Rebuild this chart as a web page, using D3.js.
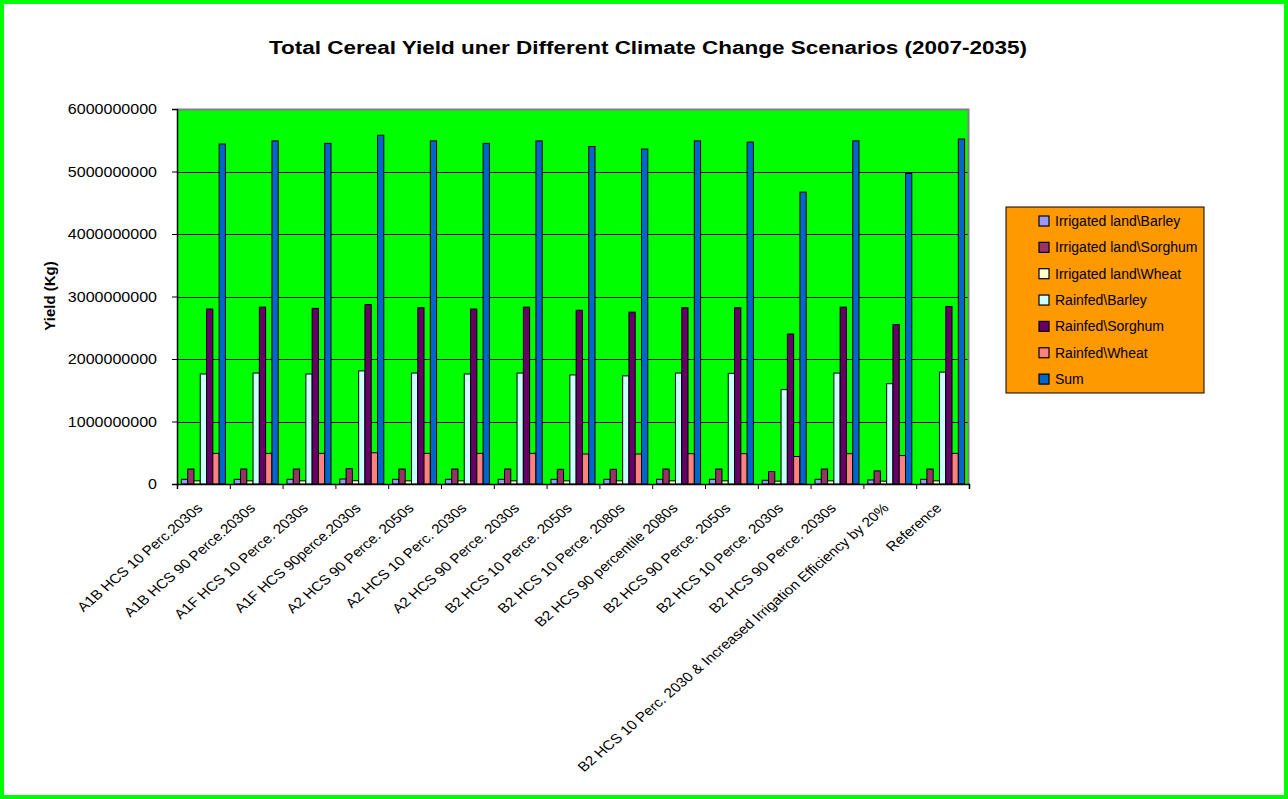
<!DOCTYPE html>
<html>
<head>
<meta charset="utf-8">
<script src="https://cdn.jsdelivr.net/npm/d3@7"></script>
<style>
  html, body { margin: 0; padding: 0; background: #ffffff; }
  svg { display: block; font-family: "Liberation Sans", Arial, sans-serif; }
</style>
</head>
<body>
<svg id="chart" width="1288" height="799"></svg>
<script>
const categories = [
  "A1B HCS 10 Perc.2030s",
  "A1B HCS 90 Perce.2030s",
  "A1F HCS 10 Perce. 2030s",
  "A1F HCS 90perce.2030s",
  "A2 HCS 90 Perce. 2050s",
  "A2 HCS 10 Perc. 2030s",
  "A2 HCS 90 Perce. 2030s",
  "B2 HCS 10 Perce. 2050s",
  "B2 HCS 10 Perce. 2080s",
  "B2 HCS 90 percentile 2080s",
  "B2 HCS 90 Perce. 2050s",
  "B2 HCS 10 Perce. 2030s",
  "B2 HCS 90 Perce. 2030s",
  "B2 HCS 10 Perc. 2030 & Increased Irrigation Efficiency by 20%",
  "Reference"
];

const seriesNames = [
  "Irrigated land\\Barley",
  "Irrigated land\\Sorghum",
  "Irrigated land\\Wheat",
  "Rainfed\\Barley",
  "Rainfed\\Sorghum",
  "Rainfed\\Wheat",
  "Sum"
];

const seriesColors = ["#9999FF", "#993366", "#FFFFCC", "#CCFFFF", "#660066", "#FF8080", "#0066CC"];

const irrigatedBarley  = [75000000, 75000000, 75000000, 80000000, 75000000, 75000000, 75000000, 75000000, 75000000, 75000000, 75000000, 60000000, 75000000, 65000000, 75000000];
const irrigatedSorghum = [240000000, 240000000, 240000000, 245000000, 240000000, 240000000, 240000000, 235000000, 235000000, 240000000, 240000000, 200000000, 240000000, 210000000, 240000000];
const irrigatedWheat   = [50000000, 50000000, 50000000, 52000000, 50000000, 50000000, 50000000, 50000000, 50000000, 50000000, 50000000, 45000000, 50000000, 45000000, 50000000];
const rainfedBarley    = [1760000000, 1775000000, 1760000000, 1810000000, 1775000000, 1760000000, 1775000000, 1745000000, 1730000000, 1775000000, 1770000000, 1510000000, 1775000000, 1605000000, 1790000000];
const rainfedSorghum   = [2800000000, 2830000000, 2810000000, 2870000000, 2820000000, 2800000000, 2830000000, 2780000000, 2750000000, 2820000000, 2820000000, 2400000000, 2830000000, 2550000000, 2840000000];
const rainfedWheat     = [490000000, 490000000, 490000000, 500000000, 490000000, 490000000, 490000000, 480000000, 480000000, 485000000, 485000000, 440000000, 485000000, 455000000, 490000000];
const sumValues        = [5440000000, 5490000000, 5450000000, 5580000000, 5490000000, 5450000000, 5490000000, 5400000000, 5360000000, 5490000000, 5470000000, 4670000000, 5490000000, 4970000000, 5520000000];

const yTickValues = [0, 1000000000, 2000000000, 3000000000, 4000000000, 5000000000, 6000000000];
const yTickLabels = ["0", "1000000000", "2000000000", "3000000000", "4000000000", "5000000000", "6000000000"];

const titleText = "Total Cereal Yield uner Different Climate Change Scenarios (2007-2035)";
const yAxisTitle = "Yield (Kg)";

const seriesData = [irrigatedBarley, irrigatedSorghum, irrigatedWheat, rainfedBarley, rainfedSorghum, rainfedWheat, sumValues];

// ---- layout ----
const W = 1288, H = 799;
const plot = { left: 177, right: 969, top: 109, bottom: 484 };
const stretch = 1.16; // the original picture is stretched horizontally

const svg = d3.select("#chart");

// outer frame
svg.append("rect").attr("x", 0).attr("y", 0).attr("width", W).attr("height", H).attr("fill", "#ffffff");
svg.append("rect").attr("x", 2).attr("y", 2).attr("width", W - 4).attr("height", H - 4)
  .attr("fill", "none").attr("stroke", "#00FF00").attr("stroke-width", 4);

// title
svg.append("text")
  .attr("x", 648).attr("y", 54)
  .attr("text-anchor", "middle")
  .attr("font-size", 18).attr("font-weight", "bold")
  .attr("textLength", 758).attr("lengthAdjust", "spacingAndGlyphs")
  .text(titleText);

// scales
const x0 = d3.scaleBand().domain(categories).range([plot.left, plot.right]).paddingInner(1 / 6).paddingOuter(1 / 12);
const x1 = d3.scaleBand().domain(seriesNames).range([0, x0.bandwidth()]);
const y = d3.scaleLinear().domain([0, 6000000000]).range([plot.bottom, plot.top]);
const color = d3.scaleOrdinal().domain(seriesNames).range(seriesColors);
const xb = d3.scaleLinear().domain([0, categories.length]).range([plot.left, plot.right]);

// plot background
svg.append("rect")
  .attr("x", plot.left).attr("y", plot.top)
  .attr("width", plot.right - plot.left).attr("height", plot.bottom - plot.top)
  .attr("fill", "#00FF00");

// gridlines
svg.append("g").selectAll("line")
  .data(yTickValues.slice(1, -1))
  .join("line")
  .attr("x1", plot.left).attr("x2", plot.right)
  .attr("y1", d => Math.round(y(d)) + 0.5).attr("y2", d => Math.round(y(d)) + 0.5)
  .attr("stroke", "#000000").attr("stroke-width", 1);

// plot border (top & right gray)
svg.append("path")
  .attr("d", `M${plot.left},${plot.top + 0.5}H${plot.right - 0.5}V${plot.bottom}`)
  .attr("fill", "none").attr("stroke", "#808080").attr("stroke-width", 2);

// bars
const groups = svg.append("g").selectAll("g")
  .data(categories)
  .join("g")
  .attr("transform", d => `translate(${x0(d)},0)`);

groups.selectAll("rect")
  .data((c, i) => seriesNames.map((s, k) => ({ s, v: seriesData[k][i] })))
  .join("rect")
  .attr("x", d => x1(d.s))
  .attr("y", d => y(d.v))
  .attr("width", x1.bandwidth())
  .attr("height", d => y(0) - y(d.v))
  .attr("fill", d => color(d.s))
  .attr("stroke", "#000000")
  .attr("stroke-width", 1);

// y axis
const yAxis = svg.append("g")
  .attr("transform", `translate(${plot.left},0)`)
  .call(d3.axisLeft(y).tickValues(yTickValues).tickSize(5).tickPadding(0)
    .tickFormat((d, i) => yTickLabels[i]));
yAxis.select(".domain").attr("stroke", "#000000").attr("stroke-width", 1.5);
yAxis.selectAll(".tick text")
  .attr("x", null)
  .attr("transform", `translate(-20,0) scale(${stretch - 0.03},1)`)
  .attr("font-size", 14.2).attr("fill", "#000000")
  .attr("font-family", "'Liberation Sans', Arial, sans-serif");

// x axis (ticks at category boundaries)
const xAxis = svg.append("g")
  .attr("transform", `translate(0,${plot.bottom})`)
  .call(d3.axisBottom(xb).tickValues(d3.range(categories.length + 1)).tickSize(5).tickFormat(""));
xAxis.select(".domain").attr("stroke", "#000000").attr("stroke-width", 1.5);

// x labels
svg.append("g").selectAll("text")
  .data(categories)
  .join("text")
  .attr("transform", d => `translate(${x0(d) + x0.bandwidth() / 2},509) scale(${stretch},1) rotate(-45)`)
  .attr("text-anchor", "end")
  .attr("font-size", 13.3)
  .attr("fill", "#000000")
  .text(d => d);

// y axis title
svg.append("text")
  .attr("transform", "translate(55,296) rotate(-90)")
  .attr("text-anchor", "middle")
  .attr("font-size", 15)
  .attr("font-weight", "bold")
  .text(yAxisTitle);

// legend
const legend = svg.append("g");
legend.append("rect")
  .attr("x", 1006).attr("y", 207).attr("width", 198).attr("height", 186)
  .attr("fill", "#FF9900").attr("stroke", "#000000").attr("stroke-width", 1);
const items = legend.selectAll("g.item")
  .data(seriesNames)
  .join("g").attr("class", "item")
  .attr("transform", (d, i) => `translate(0,${221 + i * 26.35})`);
items.append("rect")
  .attr("x", 1039).attr("y", -5).attr("width", 10).attr("height", 10)
  .attr("fill", d => color(d)).attr("stroke", "#000000").attr("stroke-width", 1.2);
items.append("text")
  .attr("x", 1055).attr("y", 0).attr("dy", "0.36em")
  .attr("font-size", 14)
  .attr("fill", "#000000")
  .text(d => d);
</script>
</body>
</html>
